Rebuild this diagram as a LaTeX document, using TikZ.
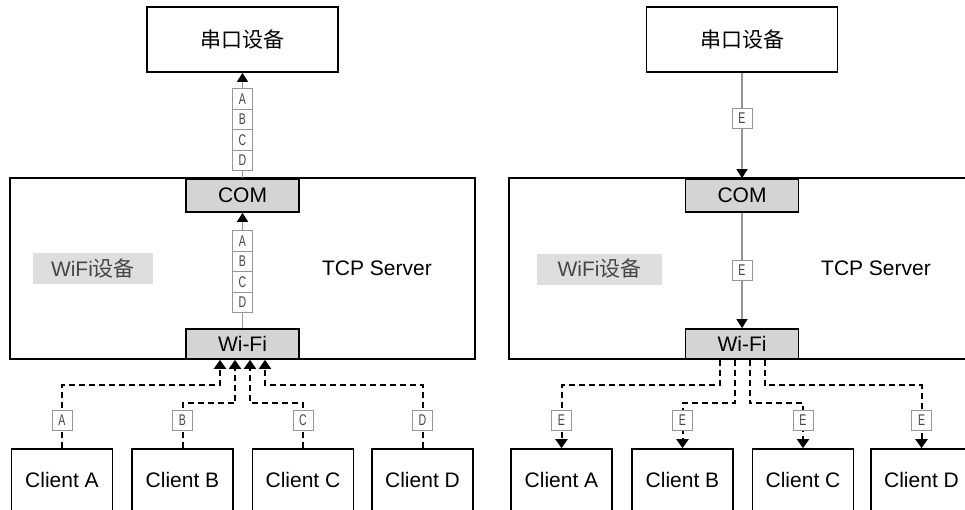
\documentclass[tikz,border=0pt]{standalone}
\usepackage{fontspec}
\setmainfont{Liberation Sans}
\newfontfamily\cjk{Noto Sans CJK SC}
\newfontfamily\narrowfont{Liberation Sans}[FakeStretch=0.68]
\usetikzlibrary{calc,positioning,arrows.meta}
\definecolor{portgray}{RGB}{212,212,212}
\definecolor{taggray}{RGB}{222,222,222}
\definecolor{wiregray}{RGB}{150,150,150}
\definecolor{textgray}{RGB}{70,70,70}
\newcommand{\boxline}{1.7pt}
\newcommand{\bigfont}{\fontsize{21}{24}\selectfont}

\tikzset{
  devbox/.style={draw, line width=\boxline, inner sep=0pt, font=\bigfont},
  portbox/.style={devbox, fill=portgray, minimum width=113pt},
  cellbox/.style={draw=wiregray, fill=white, line width=0.8pt, inner sep=0pt,
    minimum width=20pt, minimum height=20.5pt, text=textgray,
    font=\narrowfont\fontsize{15.5}{15.5}\selectfont},
  devlabel/.style={fill=taggray, inner sep=0pt, minimum height=31pt,
    text=textgray, font=\bigfont},
  plaintext/.style={font=\bigfont},
  wire/.style={draw=wiregray, line width=1.2pt,
    -{Triangle[width=11pt,length=9pt,color=black]}},
  dashwire/.style={draw, line width=2pt, dash pattern=on 6pt off 4pt,
    -{Triangle[width=12pt,length=9pt]}},
}

\begin{document}
\begin{tikzpicture}[x=1pt,y=-1pt]
\clip (0,0) rectangle (965,509);
\fill[white] (0,0) rectangle (965,509);

%left: clients to serial device
\node[devbox, minimum width=191pt, minimum height=65pt] (serL) at (242.5,39.5) {\cjk 串口设备};
\node[devbox, minimum width=465pt, minimum height=181pt] (srvL) at (242.5,268.5) {};
\node[portbox, minimum height=33pt] (comL) at (242.5,195.5) {COM};
\node[portbox, minimum height=30pt] (wifiL) at (242.5,344) {Wi-Fi};
\node[devlabel, minimum width=120pt] (tagL) at (93,268.5) {WiFi{\cjk 设备}};
\node[plaintext] (tcpL) at (377,268) {TCP Server};
\draw[wire] (comL.north) -- (serL.south);
\draw[wire] (wifiL.north) -- (comL.south);
\foreach \t [count=\i] in {A,B,C,D} {
  \node[cellbox] (upL\t) at (242.5,78.5+20.5*\i) {\t};
  \node[cellbox] (inL\t) at (242.5,220.5+20.5*\i) {\t};
}
\foreach \c/\x/\d/\h in {A/62/-22.5/63,B/182.5/-7.5/45,C/303/7.5/45,D/422.5/22.5/63} {
  \node[devbox, minimum width=101pt, minimum height=62pt] (cl\c) at (\x,480) {Client \c};
  \coordinate (pl\c) at ($(wifiL.south)+(\d,0)$);
  \draw[dashwire] (cl\c.north) -- ++(0,-\h) -| (pl\c);
  \node[cellbox] (tl\c) at ($(cl\c.north)+(0,-28)$) {\c};
}

%right: serial device to clients
\node[devbox, minimum width=191pt, minimum height=65pt] (serR) at (742,39.5) {\cjk 串口设备};
\node[devbox, minimum width=466pt, minimum height=181pt] (srvR) at (742,268.5) {};
\node[portbox, minimum height=33pt] (comR) at (742,195.5) {COM};
\node[portbox, minimum height=30pt] (wifiR) at (742,344) {Wi-Fi};
\node[devlabel, minimum width=125pt] (tagR) at (599.5,269) {WiFi{\cjk 设备}};
\node[plaintext] (tcpR) at (876,268) {TCP Server};
\draw[wire] (serR.south) -- (comR.north);
\draw[wire] (comR.south) -- (wifiR.north);
\node[cellbox] (upRE) at (742,118.5) {E};
\node[cellbox] (inRE) at (742,270.5) {E};
\foreach \c/\x/\d/\h in {A/561.5/-22.5/63,B/682.5/-7.5/45,C/803/7.5/45,D/921.5/22.5/63} {
  \node[devbox, minimum width=101pt, minimum height=62pt] (cr\c) at (\x,480) {Client \c};
  \coordinate (pr\c) at ($(wifiR.south)+(\d,0)$);
  \draw[dashwire] (pr\c) |- ($(cr\c.north)+(0,-\h)$) -- (cr\c.north);
  \node[cellbox] (tr\c) at ($(cr\c.north)+(0,-28)$) {E};
}
\end{tikzpicture}
\end{document}
